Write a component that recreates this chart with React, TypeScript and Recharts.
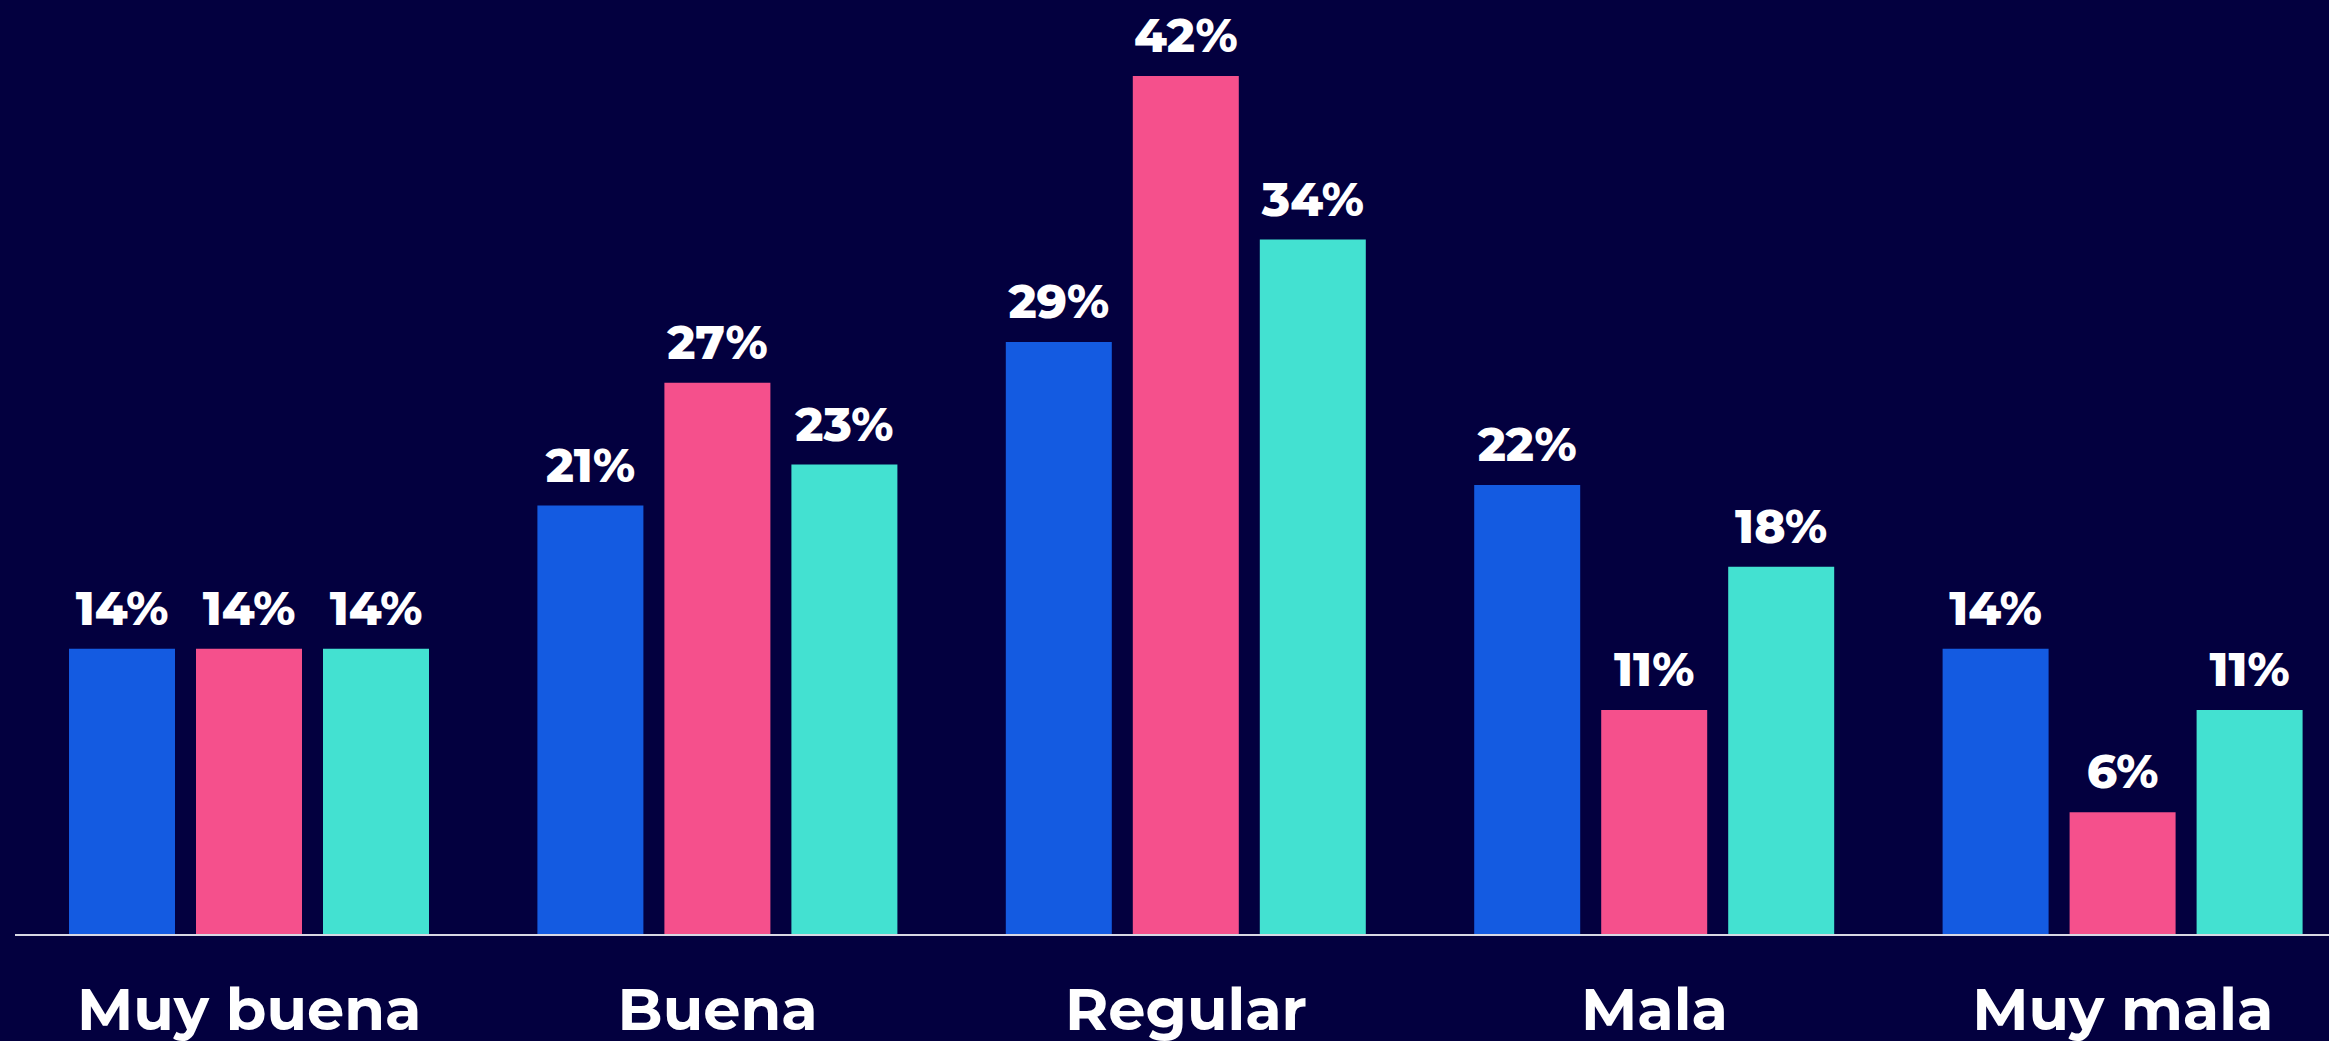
import { BarChart, Bar, XAxis, YAxis, LabelList } from "recharts";

const categories = ["Muy buena", "Buena", "Regular", "Mala", "Muy mala"];
const serieAzul = [14, 21, 29, 22, 14];
const serieRosa = [14, 27, 42, 11, 6];
const serieTurquesa = [14, 23, 34, 18, 11];

const BG = "#03003F";
const FONT = "Montserrat, 'Open Sans', sans-serif";

const data = categories.map((name, i) => ({
  name,
  azul: serieAzul[i],
  rosa: serieRosa[i],
  turquesa: serieTurquesa[i],
}));

const series = [
  { key: "azul", color: "#145BE1" },
  { key: "rosa", color: "#F5508C" },
  { key: "turquesa", color: "#43E1D1" },
];

function CategoryTick({ x, y, payload }: any) {
  return (
    <text
      x={x}
      y={y + 95}
      textAnchor="middle"
      fill="#FFFFFF"
      fontSize={59}
      fontWeight={700}
      fontFamily={FONT}
    >
      {payload.value}
    </text>
  );
}

export default function App() {
  return (
    <div
      style={{
        position: "fixed",
        top: 0,
        left: 0,
        width: 2329,
        height: 1041,
        overflow: "hidden",
        background: BG,
      }}
    >
      <BarChart
        width={2357}
        height={1041}
        data={data}
        margin={{ top: 76, right: 0, bottom: 0, left: 15 }}
        barSize={106}
        barGap={21}
      >
        <XAxis
          dataKey="name"
          axisLine={{ stroke: "#D8D8E4", strokeWidth: 2 }}
          tickLine={false}
          tickSize={0}
          tickMargin={0}
          height={106}
          interval={0}
          tick={<CategoryTick />}
        />
        <YAxis hide domain={[0, 42]} />
        {series.map((s) => (
          <Bar key={s.key} dataKey={s.key} fill={s.color} isAnimationActive={false}>
            <LabelList
              dataKey={s.key}
              position="top"
              offset={24}
              formatter={(v: any) => `${v}%`}
              fill="#FFFFFF"
              fontSize={47}
              fontWeight={800}
              fontFamily={FONT}
            />
          </Bar>
        ))}
      </BarChart>
    </div>
  );
}
